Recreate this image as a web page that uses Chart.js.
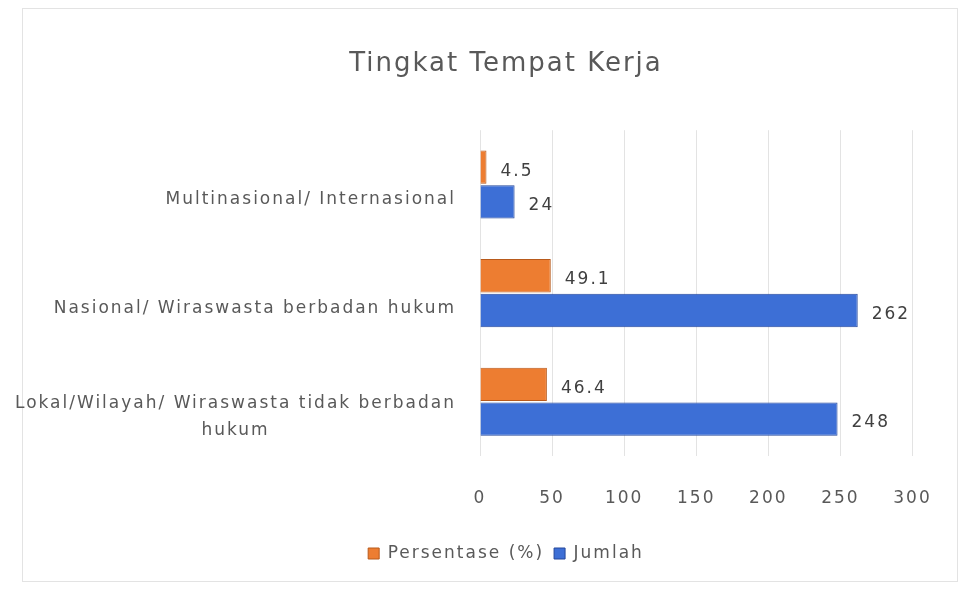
<!DOCTYPE html>
<html>
<head>
<meta charset="utf-8">
<script src="https://cdn.jsdelivr.net/npm/chart.js@4/dist/chart.umd.min.js"></script>
<style>
  html, body { margin: 0; padding: 0; background: #ffffff; }
  #frame {
    position: absolute; left: 22px; top: 8px; width: 936px; height: 574px;
    border: 1px solid #e3e3e3; box-sizing: border-box;
  }
  #wrap { position: absolute; left: 0; top: 0; width: 974px; height: 590px; }
</style>
</head>
<body>
<div id="frame"></div>
<div id="wrap"><canvas id="tempatKerja" width="974" height="590"></canvas></div>
<script>
// categories (top to bottom)
let kategoriTempat = [
    ["Multinasional/ Internasional"],
    ["Nasional/ Wiraswasta berbadan hukum"],
    ["Lokal/Wilayah/ Wiraswasta tidak berbadan", "hukum"]
];
let dataPersentase = [4.5, 49.1, 46.4];
let dataJumlah = [24, 262, 248];
let labelPersentase = ["4.5", "49.1", "46.4"];
let labelJumlah = ["24", "262", "248"];
let tickNilai = [0, 50, 100, 150, 200, 250, 300];

let fontUtama = '"DejaVu Sans", "Liberation Sans", sans-serif';

// wider text like the original picture
let spasiHurufPlugin = {
    id: 'spasiHuruf',
    beforeLayout: function(chart){ chart.ctx.letterSpacing = '2px'; },
    beforeDraw: function(chart){ chart.ctx.letterSpacing = '2px'; }
};

// category labels: right side fixed, lines centred on each other (like Excel)
let labelKategoriPlugin = {
    id: 'labelKategori',
    afterDraw: function(chart){
        let ctx = chart.ctx;
        let yScale = chart.scales.y;
        let kanan = chart.chartArea.left - 24;
        let tinggiBaris = 27;
        ctx.save();
        ctx.letterSpacing = '2px';
        ctx.font = '17px ' + fontUtama;
        ctx.fillStyle = '#595959';
        ctx.textAlign = 'center';
        ctx.textBaseline = 'middle';
        kategoriTempat.forEach(function(baris, i){
            let lebar = 0;
            baris.forEach(function(t){ lebar = Math.max(lebar, ctx.measureText(t).width); });
            let tengahX = kanan - lebar / 2;
            let tengahY = yScale.getPixelForTick(i) + 15;
            let awalY = tengahY - (baris.length - 1) * tinggiBaris / 2;
            baris.forEach(function(t, k){
                ctx.fillText(t, tengahX, awalY + k * tinggiBaris);
            });
        });
        ctx.restore();
    }
};

// draw value text at the end of each bar
let labelBarPlugin = {
    id: 'labelBar',
    afterDatasetsDraw: function(chart){
        let ctx = chart.ctx;
        ctx.save();
        ctx.letterSpacing = '2px';
        ctx.font = '17px ' + fontUtama;
        ctx.fillStyle = '#404040';
        ctx.textBaseline = 'middle';
        ctx.textAlign = 'left';
        chart.data.datasets.forEach(function(ds, i){
            let meta = chart.getDatasetMeta(i);
            meta.data.forEach(function(bar, j){
                ctx.fillText(ds.valueLabels[j], bar.x + 14, bar.y + 4);
            });
        });
        ctx.restore();
    }
};

let ctxTempat = document.getElementById('tempatKerja');
new Chart(ctxTempat, {
    type: 'bar',
    data: {
        labels: kategoriTempat,
        datasets: [
            {
                label: "Persentase (%)",
                data: dataPersentase,
                valueLabels: labelPersentase,
                backgroundColor: '#ED7D31',
                borderColor: '#B85A1B',
                borderWidth: 1,
                categoryPercentage: 0.64,
                barPercentage: 0.96
            },
            {
                label: "Jumlah",
                data: dataJumlah,
                valueLabels: labelJumlah,
                backgroundColor: '#3D6FD6',
                borderColor: '#25479A',
                borderWidth: 1,
                categoryPercentage: 0.64,
                barPercentage: 0.96
            }
        ]
    },
    plugins: [spasiHurufPlugin, labelKategoriPlugin, labelBarPlugin],
    options: {
        responsive: false,
        animation: false,
        indexAxis: 'y',
        layout: { padding: { left: 62, right: 24, top: 20, bottom: 18 } },
        plugins: {
            title: {
                display: true,
                text: 'Tingkat Tempat Kerja',
                color: '#595959',
                font: { family: fontUtama, size: 26, weight: 'normal' },
                padding: { top: 29, bottom: 50 }
            },
            legend: {
                position: 'bottom',
                labels: {
                    boxWidth: 11,
                    boxHeight: 11,
                    color: '#595959',
                    font: { family: fontUtama, size: 17 },
                    padding: 10
                }
            },
            tooltip: { enabled: false }
        },
        scales: {
            x: {
                min: 0,
                max: 326,
                afterBuildTicks: function(scale){
                    scale.ticks = tickNilai.map(function(v){ return { value: v }; });
                },
                afterFit: function(scale){ scale.height = 79; },
                grid: { color: '#e3e3e3', drawTicks: false },
                border: { display: false },
                ticks: {
                    color: '#595959',
                    padding: 32,
                    font: { family: fontUtama, size: 17 }
                }
            },
            y: {
                grid: { display: false },
                border: { display: false },
                afterFit: function(scale){ scale.width = 418; },
                ticks: { display: false }
            }
        }
    }
});
</script>
</body>
</html>
